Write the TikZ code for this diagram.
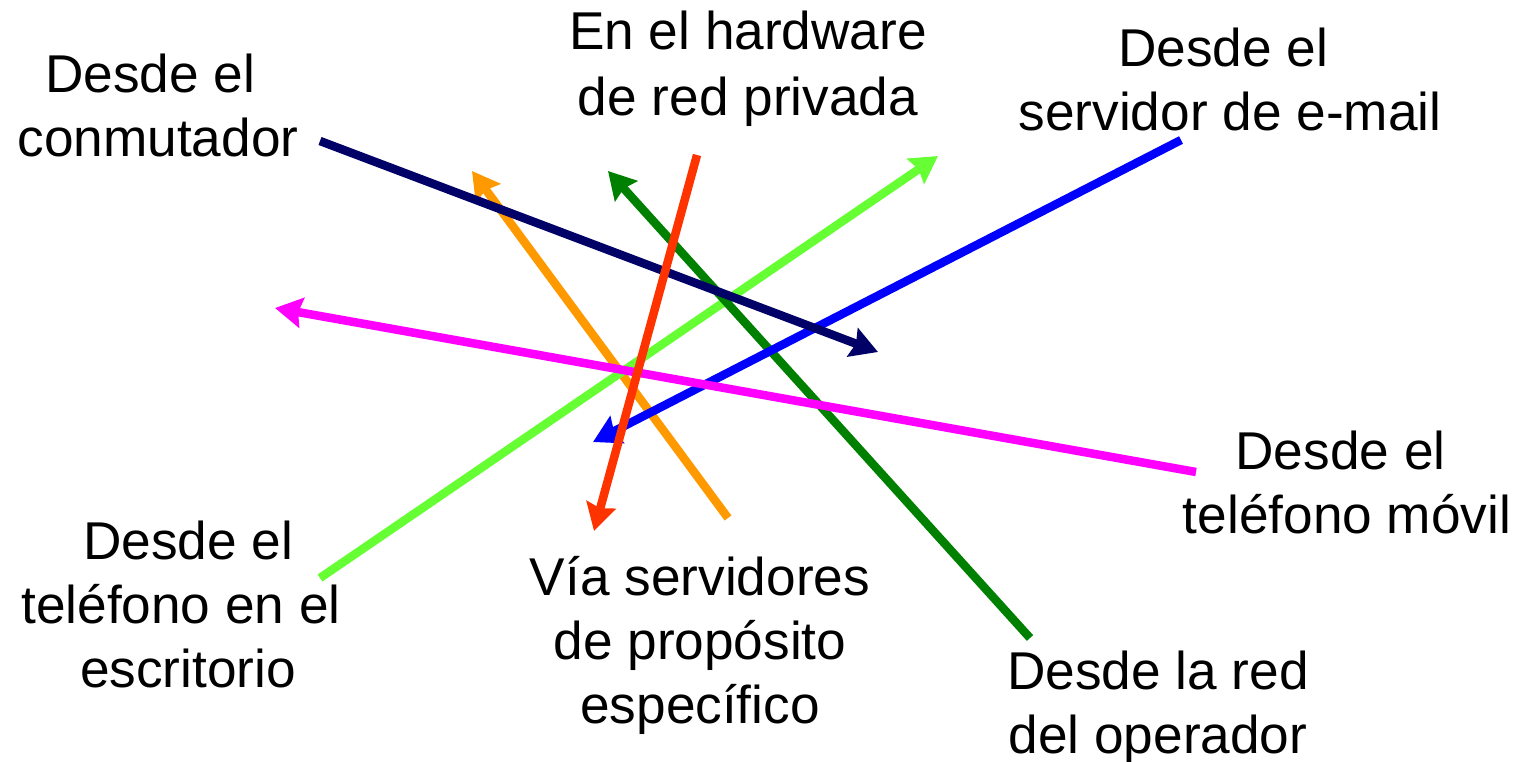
\documentclass[tikz,border=0pt]{standalone}
\usepackage{fontspec}
\setmainfont{Liberation Sans}
\usetikzlibrary{arrows.meta}
\definecolor{cnavy}{HTML}{000066}
\definecolor{corange}{HTML}{FF9900}
\definecolor{cgreen}{HTML}{008000}
\definecolor{clime}{HTML}{66FF33}
\definecolor{cblue}{HTML}{0000FF}
\definecolor{cmag}{HTML}{FF00FF}
\definecolor{cred}{HTML}{FF3300}
\tikzset{
 lbl/.style={align=center,inner sep=0pt,font=\fontsize{53.2}{64}\selectfont,text=black},
 conn/.style={line width=8.5pt,-{Stealth[length=27pt,width=30pt,inset=3.5pt]}}
}
\begin{document}
\begin{tikzpicture}[x=1pt,y=-1pt]
\useasboundingbox (0,0) rectangle (1520,762);
\node[lbl] (a) at (158,105) {Desde el\hspace*{16pt}\\conmutador};
\node[lbl,font=\fontsize{53.2}{65.5}\selectfont] (b) at (748,68.5) {En el hardware\\de red privada};
\node[lbl] (c) at (1230,79) {Desde el\hspace*{14pt}\\servidor de e-mail};
\node[lbl] (d) at (1347,482) {Desde el\hspace*{13pt}\\teléfono móvil};
\node[lbl] (e) at (1158,707.5) {Desde la red\\del operador};
\node[lbl] (f) at (700,645) {Vía servidores\\de propósito\\específico};
\node[lbl] (g) at (181,604) {\hspace*{14pt}Desde el\\teléfono en el\\\hspace*{14pt}escritorio};
\coordinate (a1) at (320,141); \coordinate (a2) at (878,352);
\coordinate (b1) at (697,155); \coordinate (b2) at (594,531);
\coordinate (c1) at (1181,140); \coordinate (c2) at (593,442);
\coordinate (d1) at (1196,472); \coordinate (d2) at (275,308);
\coordinate (e1) at (1030,638); \coordinate (e2) at (608,171);
\coordinate (f1) at (728,518); \coordinate (f2) at (472,171);
\coordinate (g1) at (320,578); \coordinate (g2) at (938,156);
\draw[conn,corange] (f1) -- (f2);
\draw[conn,clime] (g1) -- (g2);
\draw[conn,cgreen] (e1) -- (e2);
\draw[conn,cblue] (c1) -- (c2);
\draw[conn,cnavy] (a1) -- (a2);
\draw[conn,cmag] (d1) -- (d2);
\draw[conn,cred] (b1) -- (b2);
\end{tikzpicture}
\end{document}
